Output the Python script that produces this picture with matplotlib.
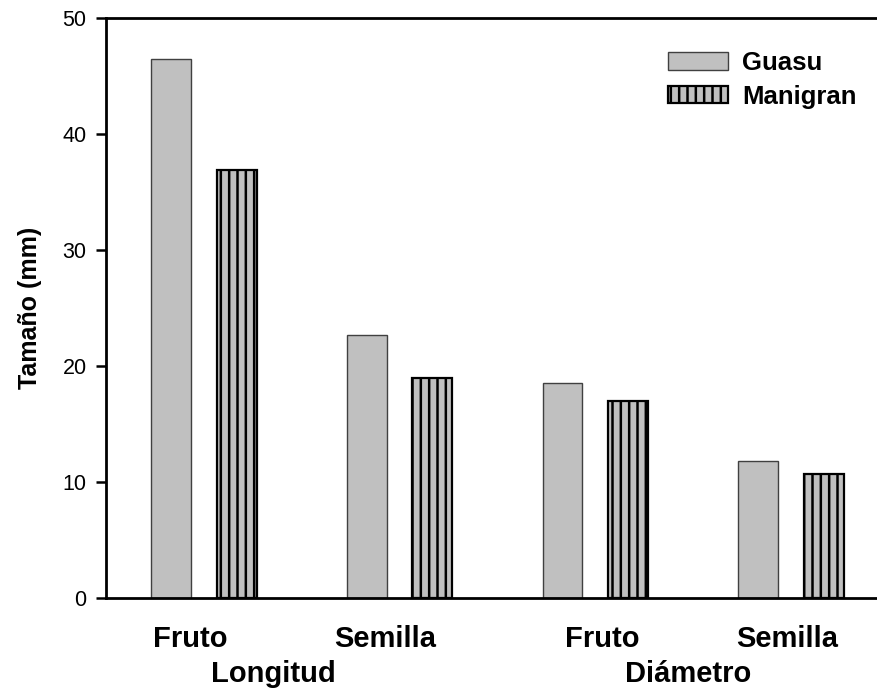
import numpy as np
import matplotlib
matplotlib.use("Agg")
import matplotlib.pyplot as plt
from matplotlib.transforms import blended_transform_factory

# datos
partes = ["Fruto", "Semilla", "Fruto", "Semilla"]
medidas = ["Longitud", "Diámetro"]
series = ["Guasu", "Manigran"]
guasu = [46.5, 22.7, 18.5, 11.8]
manigran = [36.9, 19.0, 17.0, 10.7]
yticks = [0, 10, 20, 30, 40, 50]

plt.rcParams['font.family'] = ['Liberation Sans', 'DejaVu Sans']
plt.rcParams['hatch.linewidth'] = 1.8

fig = plt.figure(figsize=(8.77, 6.91), dpi=100)
ax = fig.add_axes([106 / 877, 93 / 691, 782.8 / 877, 580 / 691])

x = np.arange(len(partes))
off = 0.1674
ancho = 0.204
gris = '#c0c0c0'

ax.bar(x - off, guasu, ancho, color=gris, edgecolor='#404040',
       linewidth=1.0, label=series[0])
ax.bar(x + off, manigran, ancho, color=gris, edgecolor='black',
       linewidth=1.6, hatch='||', label=series[1])

ax.set_xlim(-0.5, 3.5)
ax.set_ylim(0, 50)
ax.set_yticks(yticks)
ax.tick_params(axis='y', direction='out', length=7.5, width=1.8,
               labelsize=15.5, pad=6.5)
ax.set_xticks([])

for s in ['top', 'left', 'bottom']:
    ax.spines[s].set_linewidth(2.0)
ax.spines['right'].set_visible(False)

# etiquetas de categorias
tr = blended_transform_factory(ax.transData, fig.transFigure)
pos_partes = [-0.068, 0.928, 2.035, 2.979]
for p, t in zip(pos_partes, partes):
    ax.text(p, 1 - 647 / 691, t, transform=tr, ha='center', va='baseline',
            fontsize=21, fontweight='bold')
pos_medidas = [0.356, 2.477]
for p, t in zip(pos_medidas, medidas):
    ax.text(p, 1 - 682 / 691, t, transform=tr, ha='center', va='baseline',
            fontsize=21, fontweight='bold')

fig.text(30 / 877, 1 - 308 / 691, "Tamaño (mm)", rotation=90,
         ha='center', va='center', fontsize=18, fontweight='bold')

leg = ax.legend(loc='upper left', bbox_to_anchor=(650 / 877, 1 - 33 / 691),
                bbox_transform=fig.transFigure, frameon=False,
                prop={'weight': 'bold', 'size': 18.5},
                handlelength=2.33, handleheight=0.66, handletextpad=0.55,
                labelspacing=0.38, borderpad=0.2)

fig.savefig("out.png", dpi=100)
